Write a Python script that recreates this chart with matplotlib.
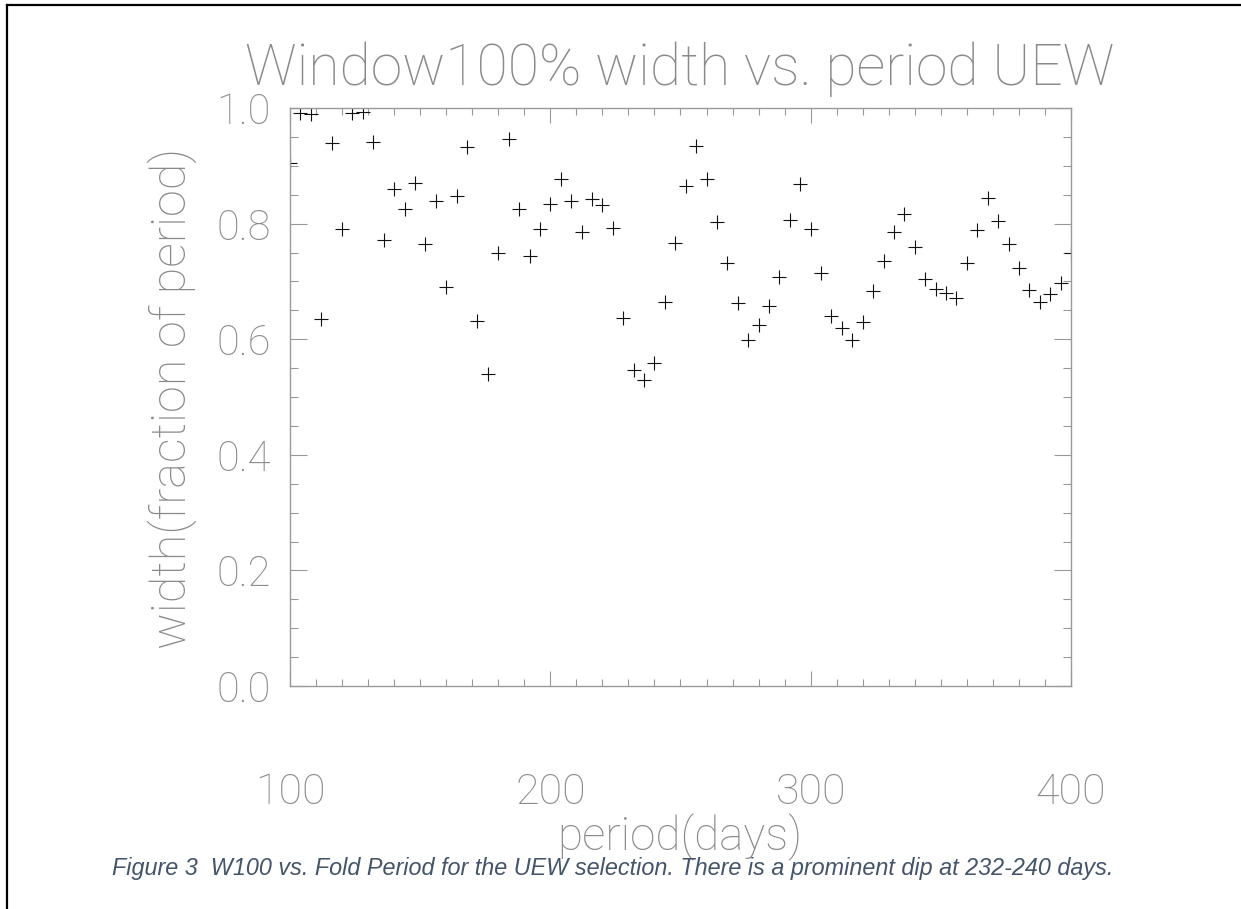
import matplotlib
matplotlib.use("Agg")
import matplotlib.pyplot as plt
from matplotlib.ticker import MultipleLocator, FixedLocator
from matplotlib.lines import Line2D

period_days = [100, 104, 108, 112, 116, 120, 124, 128, 132, 136, 140, 144, 148, 152,
               156, 160, 164, 168, 172, 176, 180, 184, 188, 192, 196, 200, 204, 208,
               212, 216, 220, 224, 228, 232, 236, 240, 244, 248, 252, 256, 260, 264,
               268, 272, 276, 280, 284, 288, 292, 296, 300, 304, 308, 312, 316, 320,
               324, 328, 332, 336, 340, 344, 348, 352, 356, 360, 364, 368, 372, 376,
               380, 384, 388, 392, 396, 400]
width_fraction = [0.905, 0.992, 0.989, 0.635, 0.940, 0.790, 0.992, 0.993, 0.942, 0.772,
                  0.860, 0.825, 0.870, 0.765, 0.839, 0.691, 0.848, 0.932, 0.632, 0.540,
                  0.750, 0.947, 0.825, 0.744, 0.790, 0.834, 0.877, 0.839, 0.785, 0.843,
                  0.832, 0.792, 0.637, 0.546, 0.529, 0.558, 0.664, 0.766, 0.865, 0.934,
                  0.877, 0.802, 0.731, 0.662, 0.599, 0.624, 0.657, 0.707, 0.807, 0.868,
                  0.790, 0.714, 0.641, 0.619, 0.599, 0.629, 0.683, 0.735, 0.786, 0.816,
                  0.760, 0.704, 0.687, 0.680, 0.672, 0.731, 0.789, 0.845, 0.804, 0.764,
                  0.723, 0.685, 0.664, 0.678, 0.697, 0.750]
x_ticks = [100, 200, 300, 400]
x_ticklabels = ["100", "200", "300", "400"]
y_ticks = [0.0, 0.2, 0.4, 0.6, 0.8, 1.0]
y_ticklabels = ["0.0", "0.2", "0.4", "0.6", "0.8", "1.0"]

title = "Window100% width vs. period UEW"
xlabel = "period(days)"
ylabel = "width(fraction of period)"
caption = "Figure 3  W100 vs. Fold Period for the UEW selection. There is a prominent dip at 232-240 days."

W, H = 1241, 909
fig = plt.figure(figsize=(W / 100, H / 100), dpi=100)
fig.patch.set_facecolor("white")

thin = dict(family=["Roboto", "Lato", "DejaVu Sans"], weight=100)
gray = "#8a8a8a"

ax = fig.add_axes([290 / W, 1 - 686 / H, (1071 - 290) / W, (686 - 108) / H])
ax.plot(period_days, width_fraction, linestyle="none", marker="+",
        markersize=10, markeredgewidth=0.8, color="#111111", clip_on=True)
ax.set_xlim(100, 400)
ax.set_ylim(0.0, 1.0)

for s in ax.spines.values():
    s.set_color("#999999")
    s.set_linewidth(1.0)

ax.xaxis.set_major_locator(FixedLocator(x_ticks))
ax.xaxis.set_minor_locator(MultipleLocator(10))
ax.yaxis.set_major_locator(FixedLocator(y_ticks))
ax.yaxis.set_minor_locator(MultipleLocator(0.05))
ax.tick_params(axis="both", which="both", direction="in", top=True, right=True,
               color="#999999", width=0.8)
ax.tick_params(axis="x", which="major", length=11)
ax.tick_params(axis="x", which="minor", length=5)
ax.tick_params(axis="y", which="major", length=12)
ax.tick_params(axis="y", which="minor", length=6)
ax.set_xticklabels(x_ticklabels, fontdict=dict(size=31, color=gray, **thin))
ax.set_yticklabels(y_ticklabels, fontdict=dict(size=30, color=gray, **thin))
ax.tick_params(axis="x", which="major", pad=62)
ax.tick_params(axis="y", which="major", pad=14)

fig.text(680 / W, 1 - 69 / H, title, ha="center", va="center",
         fontsize=41, color=gray, **thin)
fig.text(680 / W, 1 - 837 / H, xlabel, ha="center", va="center",
         fontsize=33, color=gray, **thin)
fig.text(172 / W, 1 - 398 / H, ylabel, ha="center", va="center", rotation=90,
         fontsize=35, color=gray, **thin)
fig.text(112 / W, 1 - 875 / H, caption, ha="left", va="baseline",
         fontsize=16.8, style="italic", color="#44546A", family="Liberation Sans")

# page frame (top and left edges)
fig.add_artist(Line2D([7 / W, 1.0], [1 - 5 / H, 1 - 5 / H], transform=fig.transFigure,
                      color="black", linewidth=1.6))
fig.add_artist(Line2D([7 / W, 7 / W], [0.0, 1 - 5 / H], transform=fig.transFigure,
                      color="black", linewidth=1.6))

fig.savefig("out.png", dpi=100, facecolor="white")
